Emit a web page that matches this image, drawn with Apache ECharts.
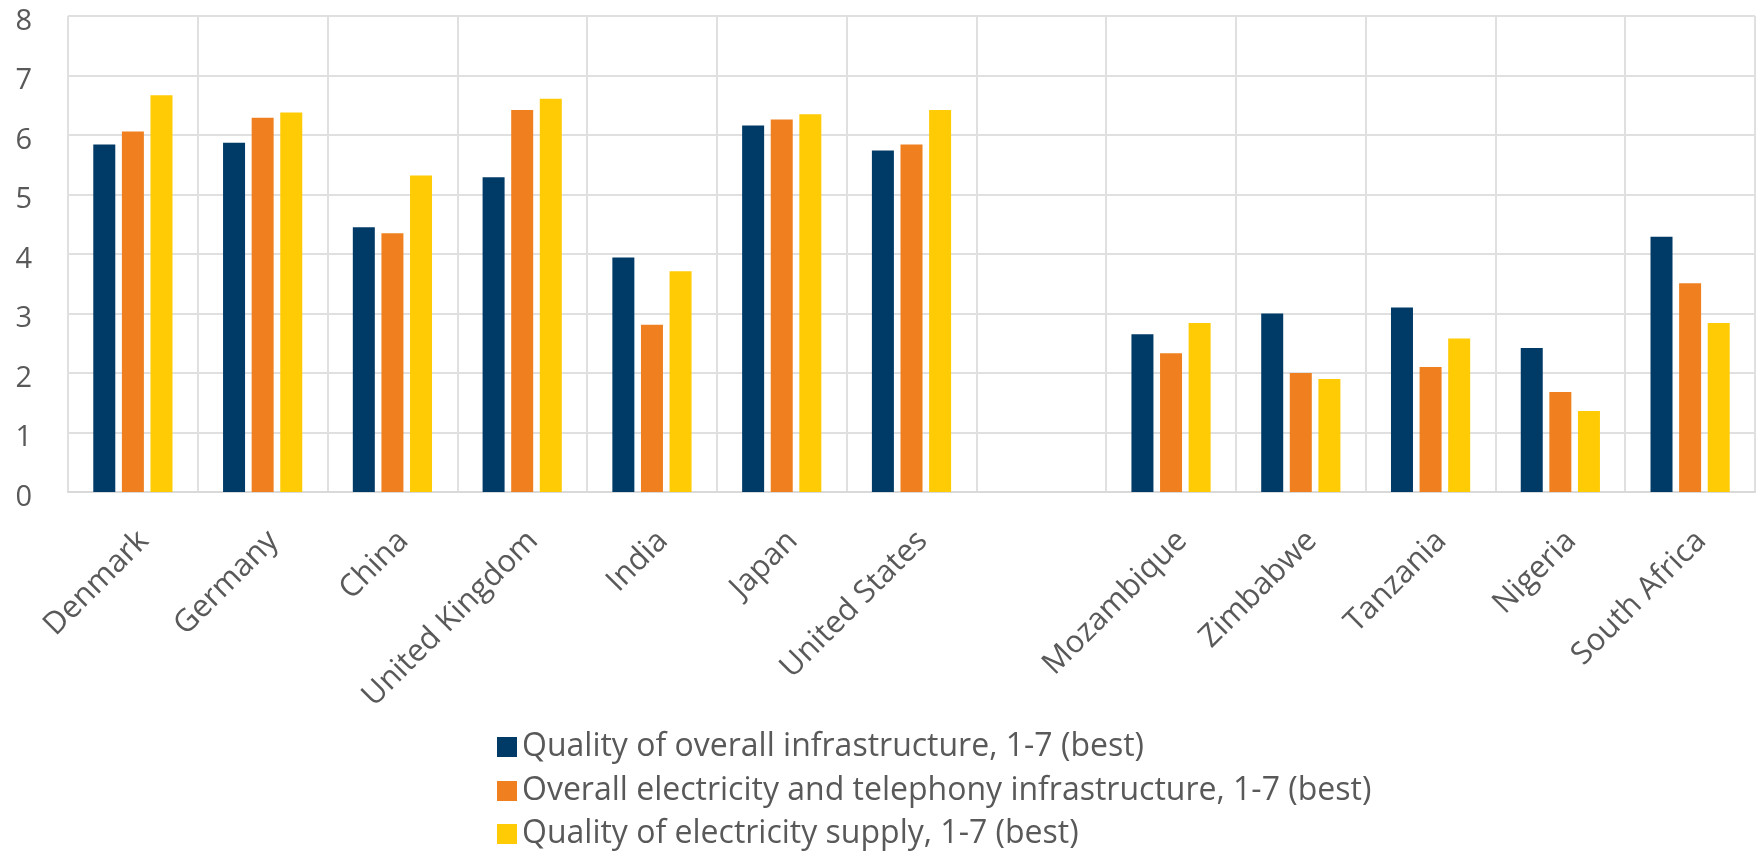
<!DOCTYPE html>
<html>
<head>
<meta charset="utf-8">
<script src="https://cdn.jsdelivr.net/npm/echarts@6/dist/echarts.min.js"></script>
<style>
html,body{margin:0;padding:0;background:#fff;}
#c{width:1761px;height:851px;}
</style>
</head>
<body>
<div id="c"></div>
<script>
const categories = ['Denmark','Germany','China','United Kingdom','India','Japan','United States','','Mozambique','Zimbabwe','Tanzania','Nigeria','South Africa'];
const seriesNames = ['Quality of overall infrastructure, 1-7 (best)','Overall electricity and telephony infrastructure, 1-7 (best)','Quality of electricity supply, 1-7 (best)'];
const overallInfra = [5.84,5.87,4.45,5.29,3.94,6.16,5.74,null,2.65,3.00,3.10,2.42,4.29];
const elecTel = [6.06,6.29,4.35,6.42,2.81,6.26,5.84,null,2.33,2.00,2.10,1.68,3.51];
const elecSupply = [6.67,6.38,5.32,6.61,3.71,6.35,6.42,null,2.84,1.90,2.58,1.36,2.84];
const yTicks = {min:0,max:8,interval:1};

const colors = ['#003A66','#F0801F','#FFCB05'];
const FONT = '"Open Sans",sans-serif';
const chart = echarts.init(document.getElementById('c'), null, {renderer:'canvas'});
const vals = [overallInfra, elecTel, elecSupply];
const legendTops = [726, 770, 813];
chart.setOption({
  animation:false,
  backgroundColor:'#fff',
  color:colors,
  grid:{left:68,right:6,top:16,bottom:359,containLabel:false},
  legend: seriesNames.map((n,i)=>({
    orient:'horizontal',left:492,top:legendTops[i],
    icon:'rect',itemWidth:20,itemHeight:20,
    textStyle:{fontFamily:FONT,fontSize:32,color:'#595959',lineHeight:28},
    data:[n]
  })),
  xAxis:{
    type:'category',data:categories,boundaryGap:true,
    axisLine:{show:true,lineStyle:{color:'#D9D9D9',width:2}},
    axisTick:{show:false},
    splitLine:{show:true,lineStyle:{color:'#E0E0E0',width:2}},
    axisLabel:{interval:0,rotate:45,align:'right',verticalAlign:'top',margin:33,
      fontFamily:FONT,fontSize:31,color:'#595959'}
  },
  yAxis:{
    type:'value',min:yTicks.min,max:yTicks.max,interval:yTicks.interval,
    axisLine:{show:false},axisTick:{show:false},
    splitLine:{show:true,lineStyle:{color:'#E0E0E0',width:2}},
    axisLabel:{margin:36,formatter:'{a|{value}}',
      rich:{a:{fontFamily:FONT,fontSize:29,color:'#595959',padding:[11,0,0,0]}}}
  },
  series: seriesNames.map((n,i)=>({
    name:n,type:'bar',data:vals[i],barWidth:22,barGap:'30%'
  }))
});
</script>
</body>
</html>
